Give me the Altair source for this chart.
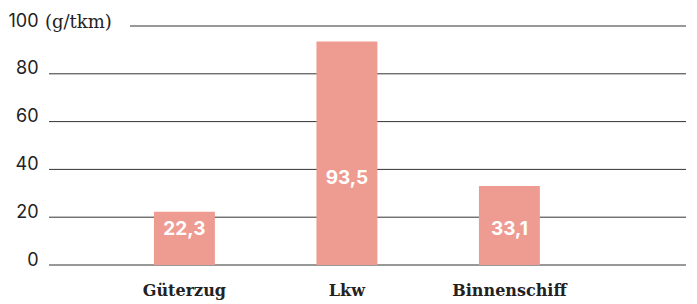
import altair as alt
import pandas as pd

categories = ["Güterzug", "Lkw", "Binnenschiff"]
values = [22.3, 93.5, 33.1]
value_labels = ["22,3", "93,5", "33,1"]
label_at = [15.1, 36.2, 14.9]
ticks = [0, 20, 40, 60, 80, 100]
unit = "(g/tkm)"

df = pd.DataFrame({"cat": categories, "val": values, "lab": value_labels, "ly": label_at})
grid_df = pd.DataFrame({"t": [t for t in ticks if t != 100]})
top_df = pd.DataFrame({"t": [100], "u": [unit]})

W, H = 637, 239
yscale = alt.Scale(domain=[0, 100], nice=False)
xscale = alt.Scale(paddingInner=0.625, paddingOuter=0.7725, align=0.418)

base = alt.Chart(df)

bars = base.mark_bar(color="#EE9C91").encode(
    x=alt.X("cat:N", sort=categories, scale=xscale, title=None,
            axis=alt.Axis(labelAngle=0, labelFont="DejaVu Serif", labelFontWeight="bold",
                          labelFontSize=16, labelColor="#222222", labelPadding=17,
                          ticks=False, domain=False)),
    y=alt.Y("val:Q", scale=yscale, title=None,
            axis=alt.Axis(values=ticks, grid=False, ticks=False, domain=False,
                          labelFont="Inter", labelFontSize=18, labelColor="#222222",
                          labelAlign="right", labelBaseline="alphabetic", labelPadding=11)),
)

texts = base.mark_text(color="white", font="Inter", fontWeight="bold", fontSize=19,
                       baseline="middle").encode(
    x=alt.X("cat:N", sort=categories, scale=xscale),
    y=alt.Y("ly:Q", scale=yscale),
    text="lab:N",
)

grid = alt.Chart(grid_df).mark_rule(color="#333333", strokeWidth=1).encode(
    y=alt.Y("t:Q", scale=yscale),
    x=alt.value(0), x2=alt.value(W),
)
grid_top = alt.Chart(top_df).mark_rule(color="#333333", strokeWidth=1).encode(
    y=alt.Y("t:Q", scale=yscale),
    x=alt.value(81), x2=alt.value(W),
)
unit_text = alt.Chart(top_df).mark_text(font="DejaVu Serif", fontSize=18, color="#222222",
                                       align="left", baseline="alphabetic", dy=2).encode(
    y=alt.Y("t:Q", scale=yscale),
    x=alt.value(-4),
    text="u:N",
)

chart = alt.layer(grid, grid_top, bars, texts, unit_text).properties(
    width=W, height=H,
    autosize=alt.AutoSizeParams(type="none"),
    padding={"left": 41, "top": 18, "right": 3, "bottom": 39},
).configure_view(stroke=None)

chart.save("out.html", embed_options={"renderer": "svg", "actions": False})
